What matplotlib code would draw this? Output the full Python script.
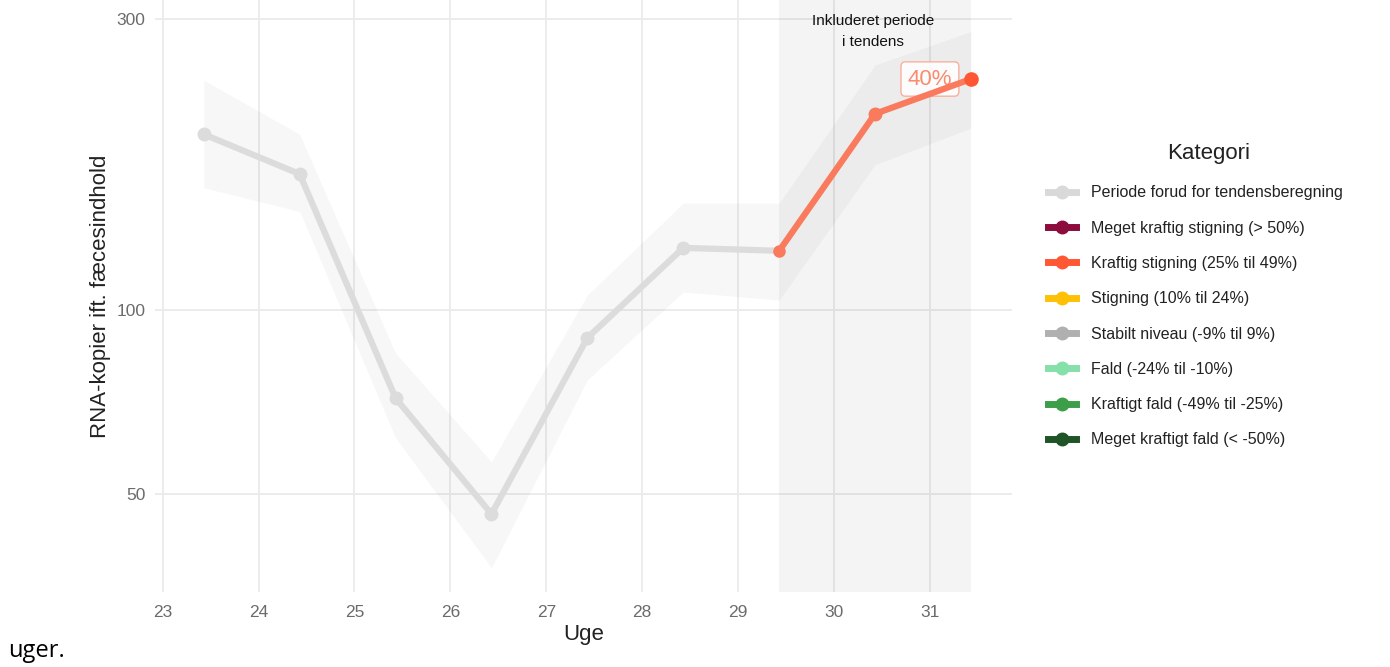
import matplotlib.pyplot as plt
from matplotlib.lines import Line2D
from matplotlib.ticker import FixedLocator, NullLocator, FixedFormatter

# Data (ugenr., niveau og usikkerhedsbånd)
uge = [23, 24, 25, 26, 27, 28, 29, 30, 31]
niveau = [194, 167, 71.7, 46.3, 90, 126.4, 125, 209.6, 239]
nedre = [158.5, 145, 61.7, 37.8, 76.8, 107, 103.8, 173, 198.6]
oevre = [238, 194, 85, 56.4, 105.8, 149.7, 149.7, 252, 286]
dag_offset = 3 / 7  # torsdag i ugen

tendens_fra = 6  # index for uge 29
tendens_pct = '40%'

kategorier = [
    'Periode forud for tendensberegning',
    'Meget kraftig stigning (> 50%)',
    'Kraftig stigning (25% til 49%)',
    'Stigning (10% til 24%)',
    'Stabilt niveau (-9% til 9%)',
    'Fald (-24% til -10%)',
    'Kraftigt fald (-49% til -25%)',
    'Meget kraftigt fald (< -50%)',
]
farver = ['#d9d9d9', '#8c0c3e', '#ff5733', '#ffc107', '#b0b0b0',
          '#85e0aa', '#3d9e4a', '#1f5427']

y_ticks = [50, 100, 300]

plt.rcParams['font.family'] = ['Liberation Sans', 'DejaVu Sans']

x = [u + dag_offset for u in uge]

fig = plt.figure(figsize=(13.9, 6.67), dpi=100)
ax = fig.add_axes([0.1115, 0.1124, 0.6165, 0.8876])

ax.set_yscale('log')
ax.set_xlim(22.92, 31.855)
ax.set_ylim(34.5, 322)

# grid
ax.set_axisbelow(True)
ax.grid(True, which='major', color='#ebebeb', linewidth=1.3)
for s in ax.spines.values():
    s.set_visible(False)
ax.tick_params(length=0, colors='#6b6b6b', labelsize=12.5)
ax.tick_params(axis='x', pad=9)
ax.tick_params(axis='y', pad=7)

ax.yaxis.set_major_locator(FixedLocator(y_ticks))
ax.yaxis.set_major_formatter(FixedFormatter([str(v) for v in y_ticks]))
ax.yaxis.set_minor_locator(NullLocator())
ax.set_xticks(uge)

# skraveret periode
ax.axvspan(x[tendens_fra], x[-1], color='black', alpha=0.042, lw=0, zorder=1.5)
ax.text((x[tendens_fra] + x[-1]) / 2 - 0.02, 305, 'Inkluderet periode\ni tendens',
        ha='center', va='top', fontsize=11, linespacing=1.6, color='#111111')

# usikkerhedsbånd
ax.fill_between(x, nedre, oevre, color='black', alpha=0.03, lw=0, zorder=2)

# grå periode
ax.plot(x[:tendens_fra + 1], niveau[:tendens_fra + 1], color='#dcdcdc',
        lw=4.5, solid_capstyle='round', zorder=3)
ax.plot(x[:tendens_fra], niveau[:tendens_fra], 'o', color='#dcdcdc',
        ms=9, zorder=3)

# tendens
ax.text(uge[-1], niveau[-1], tendens_pct, ha='center', va='center',
        fontsize=16, color='#f98b6e', zorder=3.5,
        bbox=dict(boxstyle='round,pad=0.3,rounding_size=0.2', fc='white',
                  ec='#f9a48d', lw=1, alpha=0.85))
ax.plot(x[tendens_fra:], niveau[tendens_fra:], color='#f97a5c', lw=4.5,
        solid_capstyle='round', zorder=4)
ax.plot(x[tendens_fra], niveau[tendens_fra], 'o', color='#f97a5c', ms=8, zorder=4)
ax.plot(x[tendens_fra + 1], niveau[tendens_fra + 1], 'o', color='#f97a5c', ms=9, zorder=4)
ax.plot(x[-1], niveau[-1], 'o', color='#ff5733', ms=9.5, zorder=5)

ax.set_xlabel('Uge', fontsize=16, color='#222222', labelpad=3)
ax.set_ylabel('RNA-kopier ift. fæcesindhold', fontsize=16, color='#222222',
              labelpad=4)

# legend
handles = [Line2D([0], [0], color=c, lw=5, marker='o', ms=9) for c in farver]
leg = fig.legend(handles, kategorier, loc='upper left',
                 bbox_to_anchor=(0.754, 0.722), frameon=False,
                 fontsize=11.5, handlelength=1.75, handletextpad=0.95,
                 labelspacing=1.27, borderpad=0, borderaxespad=0)
for t in leg.get_texts():
    t.set_color('#222222')
fig.text(1209 / 1390, 1 - 153 / 667, 'Kategori', ha='center', va='center',
         fontsize=16, color='#222222')

fig.text(0.006, 0.015, 'uger.', fontsize=17, family='Open Sans', color='black')

fig.savefig('out.png', dpi=100)
